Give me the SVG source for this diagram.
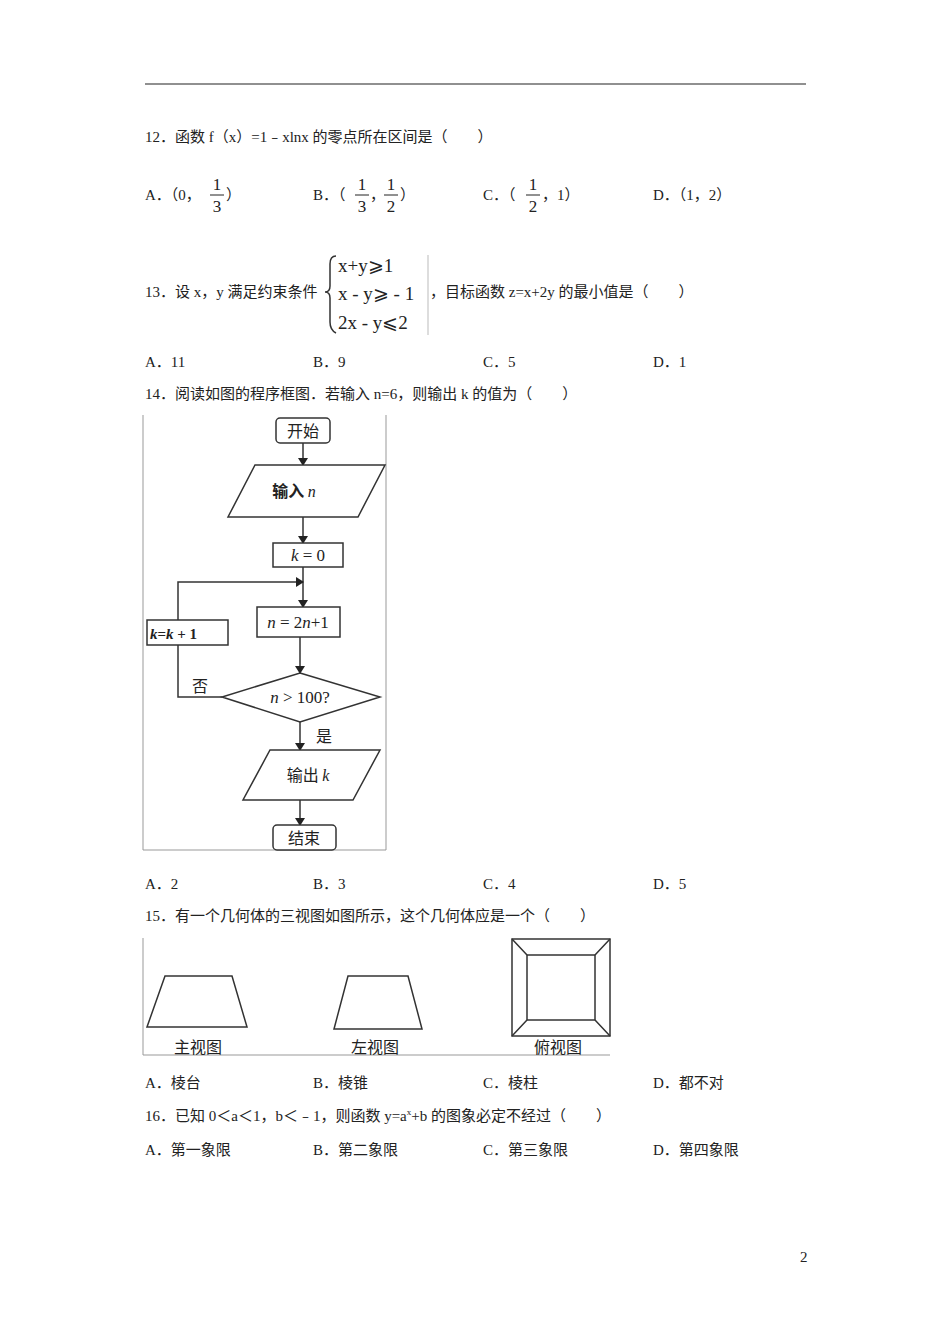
<svg xmlns="http://www.w3.org/2000/svg" width="950" height="1344" viewBox="0 0 950 1344">
<style>
text{font-family:"Liberation Serif","Noto Sans CJK SC",serif;font-size:15px;fill:#222}
.s{fill:none;stroke:#333;stroke-width:1.5}
.f{fill:#fff;stroke:#333;stroke-width:1.5}
.m{font-family:"Liberation Serif",serif;font-size:17px}
.q{font-family:"Liberation Serif",serif;font-size:19px}
.c{font-family:"Noto Sans CJK SC",sans-serif;font-size:16px}
.fr{font-family:"Liberation Serif",serif;font-size:17px;text-anchor:middle}
</style>
<defs><marker id="a" markerWidth="8" markerHeight="10" refX="7" refY="5" orient="auto" markerUnits="userSpaceOnUse"><path d="M0,0 L8,5 L0,10 Z" fill="#222"/></marker></defs>
<rect width="950" height="1344" fill="#fff"/>
<line x1="145" y1="84" x2="806" y2="84" stroke="#222" stroke-width="1.2"/>
<text x="145" y="142">12．函数 f（x）=1﹣xlnx 的零点所在区间是（　　）</text>
<text x="145" y="200">A．（0，</text><text class="fr" x="217" y="190">1</text><line x1="210" y1="195" x2="224" y2="195" stroke="#222"/><text class="fr" x="217" y="212">3</text><text x="226" y="200">）</text>
<text x="313" y="200">B．（</text><text class="fr" x="362" y="190">1</text><line x1="355" y1="195" x2="369" y2="195" stroke="#222"/><text class="fr" x="362" y="212">3</text><text x="370" y="200">，</text>
<text class="fr" x="391" y="190">1</text><line x1="384" y1="195" x2="398" y2="195" stroke="#222"/><text class="fr" x="391" y="212">2</text><text x="400" y="200">）</text>
<text x="483" y="200">C．（</text><text class="fr" x="533" y="190">1</text><line x1="526" y1="195" x2="540" y2="195" stroke="#222"/><text class="fr" x="533" y="212">2</text><text x="542" y="200">，1）</text>
<text x="653" y="200">D．（1，2）</text>
<text x="145" y="297">13．设 x，y 满足约束条件</text>
<path d="M336,256 Q330,256 330,264 L330,286 Q330,292 325,292 Q330,292 330,298 L330,322 Q330,330 336,333" class="s" stroke-width="1"/>
<line x1="428" y1="255" x2="428" y2="335" stroke="#bbb"/>
<text class="q" x="338" y="272">x+y⩾1</text>
<text class="q" x="338" y="300">x - y⩾ - 1</text>
<text class="q" x="338" y="329">2x - y⩽2</text>
<text x="430" y="297">，目标函数 z=x+2y 的最小值是（　　）</text>
<text x="145" y="367">A．11</text><text x="313" y="367">B．9</text><text x="483" y="367">C．5</text><text x="653" y="367">D．1</text>
<text x="145" y="399">14．阅读如图的程序框图．若输入 n=6，则输出 k 的值为（　　）</text>
<g id="frame1"><path d="M143,415 V850 H386 V415" fill="none" stroke="#999"/></g>
<g id="connectors">
<line x1="303" y1="443" x2="303" y2="465" class="s" marker-end="url(#a)"/>
<line x1="303" y1="517" x2="303" y2="543" class="s" marker-end="url(#a)"/>
<line x1="303" y1="567" x2="303" y2="607" class="s" marker-end="url(#a)"/>
<line x1="300" y1="637" x2="300" y2="673" class="s" marker-end="url(#a)"/>
<line x1="300" y1="722" x2="300" y2="750" class="s" marker-end="url(#a)"/>
<line x1="300" y1="800" x2="300" y2="825" class="s" marker-end="url(#a)"/>
<polyline points="222,697 178,697 178,645" class="s"/>
<polyline points="178,620 178,582 303,582" class="s" marker-end="url(#a)"/>
</g>
<g id="start"><rect x="276" y="418" width="54" height="25" rx="4" class="f"/><text class="c" x="303" y="437" text-anchor="middle">开始</text></g>
<g id="input"><polygon points="255,465 385,465 358,517 228,517" class="f"/><text class="c" x="294" y="497" text-anchor="middle" font-weight="bold">输入 <tspan font-family="Liberation Serif" font-style="italic" font-weight="normal">n</tspan></text></g>
<g id="k0"><rect x="273" y="543" width="70" height="24" class="f"/><text class="m" x="308" y="561" text-anchor="middle"><tspan font-style="italic">k</tspan> = 0</text></g>
<g id="n2"><rect x="257" y="607" width="83" height="30" class="f"/><text class="m" x="298" y="628" text-anchor="middle"><tspan font-style="italic">n</tspan> = 2<tspan font-style="italic">n</tspan>+1</text></g>
<g id="kinc"><rect x="147" y="620" width="81" height="25" class="f"/><text x="150" y="639" font-family="Liberation Sans,sans-serif" font-weight="bold" font-size="17"><tspan font-style="italic">k</tspan>=<tspan font-style="italic">k</tspan> + 1</text></g>
<g id="cond"><polygon points="300,673 380,697 300,722 222,697" class="f"/><text class="m" x="300" y="703" text-anchor="middle"><tspan font-style="italic">n</tspan> &gt; 100?</text></g>
<text class="c" x="192" y="692">否</text>
<text class="c" x="316" y="742">是</text>
<g id="output"><polygon points="270,750 380,750 353,800 243,800" class="f"/><text class="c" x="308" y="781" text-anchor="middle">输出 <tspan font-family="Liberation Serif" font-style="italic">k</tspan></text></g>
<g id="end"><rect x="273" y="825" width="63" height="25" rx="4" class="f"/><text class="c" x="304" y="844" text-anchor="middle">结束</text></g>
<text x="145" y="889">A．2</text><text x="313" y="889">B．3</text><text x="483" y="889">C．4</text><text x="653" y="889">D．5</text>
<text x="145" y="921">15．有一个几何体的三视图如图所示，这个几何体应是一个（　　）</text>
<g id="views">
<path d="M143,938 V1055 H610" fill="none" stroke="#999"/>
<polygon points="165,976 232,976 247,1027 147,1027" class="s"/>
<polygon points="348,976 408,976 422,1029 334,1029" class="s"/>
<rect x="512" y="939" width="98" height="97" class="s"/>
<rect x="527" y="955" width="68" height="65" class="s"/>
<path d="M512,939 L527,955 M610,939 L595,955 M512,1036 L527,1020 M610,1036 L595,1020" class="s" stroke-width="1"/>
<text class="c" x="198" y="1053" text-anchor="middle">主视图</text>
<text class="c" x="375" y="1053" text-anchor="middle">左视图</text>
<text class="c" x="558" y="1053" text-anchor="middle">俯视图</text>
</g>
<text x="145" y="1088">A．棱台</text><text x="313" y="1088">B．棱锥</text><text x="483" y="1088">C．棱柱</text><text x="653" y="1088">D．都不对</text>
<text x="145" y="1121">16．已知 0＜a＜1，b＜﹣1，则函数 y=a<tspan font-size="9" dy="-6">x</tspan><tspan dy="6">+b 的图象必定不经过（　　）</tspan></text>
<text x="145" y="1155">A．第一象限</text><text x="313" y="1155">B．第二象限</text><text x="483" y="1155">C．第三象限</text><text x="653" y="1155">D．第四象限</text>
<text x="800" y="1262" font-size="13">2</text>
</svg>
